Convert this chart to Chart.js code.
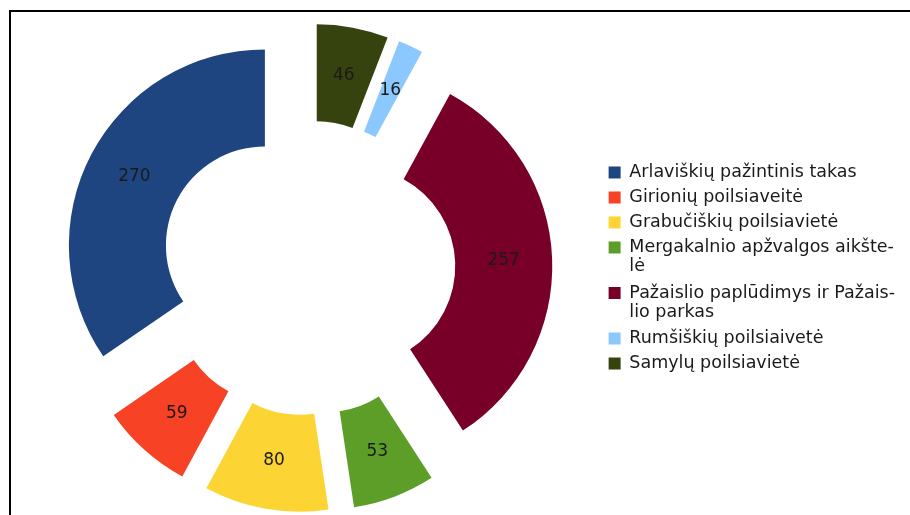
<!DOCTYPE html>
<html lang="lt">

<head>
    <meta charset="UTF-8">
    <title>Poilsiavietės</title>
    <style>
        html, body {
            margin: 0;
            padding: 0;
            background: #fff;
            overflow: hidden;
        }

        .frame {
            position: absolute;
            left: 9px;
            top: 10px;
            width: 920px;
            height: 530px;
            border: 2px solid #000;
        }

        .wrap {
            position: absolute;
            left: 0;
            top: 0;
            width: 910px;
            height: 515px;
        }
    </style>
</head>

<body>
    <div class="frame"></div>
    <div class="wrap">
        <canvas id="chart"></canvas>
    </div>

    <script src="https://cdn.jsdelivr.net/npm/chart.js@4.4.3/dist/chart.umd.min.js"></script>

    <script>
        // legend order (counter-clockwise from 12 o'clock in the picture)
        const categories = [
            'Arlaviškių pažintinis takas',
            'Girionių poilsiaveitė',
            'Grabučiškių poilsiavietė',
            ['Mergakalnio apžvalgos aikšte-', 'lė'],
            ['Pažaislio paplūdimys ir Pažais-', 'lio parkas'],
            'Rumšiškių poilsiaivetė',
            'Samylų poilsiavietė'
        ]
        const visitors = [270, 59, 80, 53, 257, 16, 46]
        const colors = ['#1f4580', '#f84225', '#fcd434', '#5c9e28', '#780028', '#8bc8fd', '#37430f']

        const EXPLODE = 48.5
        const labelFont = 'DejaVu Sans'

        // chart.js draws clockwise, the original goes the other way round
        const rev = arr => arr.slice().reverse()

        const explode = {
            id: 'explode',
            beforeDatasetDraw(chart, args) {
                const ctx = chart.ctx
                args.meta.data.forEach(arc => {
                    const mid = (arc.startAngle + arc.endAngle) / 2
                    ctx.save()
                    ctx.translate(Math.cos(mid) * EXPLODE, Math.sin(mid) * EXPLODE)
                    arc.draw(ctx)
                    ctx.restore()
                })
                return false
            },
            afterDatasetsDraw(chart) {
                const ctx = chart.ctx
                const meta = chart.getDatasetMeta(0)
                const values = chart.data.datasets[0].data
                ctx.save()
                ctx.font = '17px ' + labelFont
                ctx.fillStyle = '#1a1a1a'
                ctx.textAlign = 'center'
                ctx.textBaseline = 'middle'
                meta.data.forEach((arc, i) => {
                    const mid = (arc.startAngle + arc.endAngle) / 2
                    const p = arc.tooltipPosition()
                    ctx.fillText(values[i], p.x + Math.cos(mid) * EXPLODE, p.y + Math.sin(mid) * EXPLODE)
                })
                ctx.restore()
            }
        }

        new Chart(document.getElementById('chart'), {
            type: 'doughnut',
            data: {
                labels: rev(categories),
                datasets: [{
                    data: rev(visitors),
                    backgroundColor: rev(colors),
                    borderWidth: 0,
                    radius: 196,
                    cutout: '50.5%'
                }]
            },
            options: {
                responsive: true,
                maintainAspectRatio: false,
                animation: false,
                layout: {
                    padding: { left: 14.5, right: 5, top: 21, bottom: 0 }
                },
                plugins: {
                    tooltip: { enabled: false },
                    legend: {
                        position: 'right',
                        reverse: true,
                        labels: {
                            boxWidth: 12,
                            boxHeight: 12,
                            padding: 7.5,
                            color: '#1a1a1a',
                            font: { family: labelFont, size: 17.5, lineHeight: 1.086 }
                        }
                    }
                }
            },
            plugins: [explode]
        })
    </script>
</body>

</html>
